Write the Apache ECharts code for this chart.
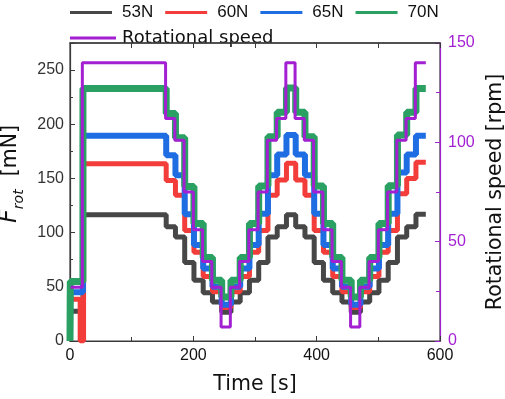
<!DOCTYPE html>
<html><head><meta charset="utf-8">
<script src="https://cdn.jsdelivr.net/npm/echarts@6/dist/echarts.min.js"></script>
<style>html,body{margin:0;padding:0;background:#fff}#c{width:505px;height:399px}</style>
</head><body><div id="c"></div>
<script>
// ---- data ----
const seriesNames = ['53N', '60N', '65N', '70N'];
const speedName = 'Rotational speed';
const xTicks = [0, 200, 400, 600];
const leftTicks = [0, 50, 100, 150, 200, 250];
const rightTicks = [0, 50, 100, 150];

// times (s) at which each speed step begins
const stepTimes = [155,170,185,200,215,230,245, 260,275,290,305,320,335,350,
                   365,380,395,410,425,440,455, 470,485,500,515,530,545,560];
const endTime = 577;

// rotational speed (rpm)
const speedStartTime = 1, speedInitial = 27, speedRiseTime = 20, speedTop = 140;
const speedSteps = [112,101,75,56,40,27,7, 27,40,56,75,101,112,140,
                    112,101,75,56,40,27,7, 27,40,56,75,101,112,140];

// force (mN): initial level (t≈0–17 s) and first plateau (t≈21–155 s)
const initialForce = [27.4, 38.5, 45, 55];
const plateauForce = [116.5, 163.5, 189.5, 233];
const f53 = [105.5,96,72.5,56,44.5,36,26.5, 36,44.5,56,72.5,96,105.5,116.5,
             105.5,96,72.5,56,44.5,36,26.5, 36,44.5,56,72.5,96,105.5,117];
const f60 = [148,134.5,102,82,59.5,45.5,31, 45.5,59.5,82,102,134.5,148.5,164,
             148.5,134.5,102,82,59.5,45.5,31, 45.5,59.5,82,102,136,150,165];
const f65 = [171.5,153,117,88.5,67,50,33.5, 50,67,88.5,117.5,153,172,190,
             172,153,117.5,88.5,67,50,33.5, 50,67,88.5,117.5,155.5,172,189.5];
const f70 = [210,187.5,142.5,108.5,77,56,40.5, 56,77,108.5,143,188.5,211,233.5,
             211,188.5,143,108.5,77,56,40.5, 56,77,108.5,143.3,190,211,233];
const forceSteps = [f53, f60, f65, f70];

// ---- styles ----
const colors = ['#474747', '#f23d3a', '#1f6de3', '#2aa063'];
const widths = [5, 5, 6, 7];
const purple = '#a21fd2';

function buildForce(i) {
  const pts = [[0, 0], [0.5, initialForce[i]]];
  if (i === 1) { pts.push([16.5, 0]); pts.push([22, plateauForce[i]]); }
  else { pts.push([21, plateauForce[i]]); }
  const s = forceSteps[i];
  for (let k = 0; k < stepTimes.length; k++) pts.push([stepTimes[k] + 1, s[k]]);
  pts.push([endTime, s[s.length - 1]]);
  return pts;
}
function buildSpeed() {
  const pts = [[speedStartTime, speedInitial], [speedRiseTime, speedTop]];
  for (let k = 0; k < stepTimes.length; k++) pts.push([stepTimes[k], speedSteps[k]]);
  pts.push([endTime, speedSteps[speedSteps.length - 1]]);
  return pts;
}

const series = seriesNames.map((n, i) => ({
  type: 'line', name: n, data: buildForce(i), step: 'end', showSymbol: false, symbol: 'none',
  color: colors[i], lineStyle: { width: widths[i], color: colors[i] },
  xAxisIndex: 0, yAxisIndex: 0, z: 2 + i
}));
series.push({
  type: 'line', name: speedName, data: buildSpeed(), step: 'end', showSymbol: false, symbol: 'none',
  color: purple, lineStyle: { width: 3, color: purple }, xAxisIndex: 0, yAxisIndex: 1, z: 10
});

const axisColor = '#3a3a3a';
const option = {
  animation: false,
  grid: { left: 70, right: 65, top: 43, bottom: 58, outerBoundsMode: 'none',
          show: true, borderColor: axisColor, borderWidth: 1.2 },
  legend: [
    { data: seriesNames, left: 65, top: -1, icon: 'rect', itemWidth: 42, itemHeight: 3, itemGap: 12, z: 1,
      textStyle: { fontFamily: 'Liberation Sans', fontSize: 17, color: '#111', padding: [0, 0, 0, 5] } },
    { data: [speedName], left: 65, top: 24, icon: 'rect', itemWidth: 46, itemHeight: 3, z: 1,
      textStyle: { fontFamily: 'DejaVu Sans', fontSize: 18, color: '#111', padding: [0, 0, 0, 1] } }
  ],
  xAxis: [
    { type: 'value', min: xTicks[0], max: xTicks[xTicks.length - 1], interval: 200, position: 'bottom',
      name: 'Time [s]', nameLocation: 'middle', nameGap: 33,
      nameTextStyle: { fontFamily: 'DejaVu Sans', fontSize: 20.5, color: '#111' },
      axisLine: { onZero: false, lineStyle: { color: axisColor, width: 1.2 } },
      axisTick: { inside: true, length: 5, lineStyle: { color: axisColor } },
      minorTick: { show: true, splitNumber: 2, length: 4, lineStyle: { color: axisColor } },
      axisLabel: { fontFamily: 'Liberation Sans', fontSize: 16, color: '#111', margin: 7 },
      splitLine: { show: false } },
    { type: 'value', min: 0, max: 600, interval: 100, position: 'top', z: 20,
      axisLine: { show: true, onZero: false, lineStyle: { color: axisColor, width: 1.5 } },
      axisTick: { show: true, inside: true, length: 5, lineStyle: { color: axisColor } },
      axisLabel: { show: false }, splitLine: { show: false } }
  ],
  yAxis: [
    { type: 'value', min: 0, max: 275, interval: 50, position: 'left', offset: 0,
      name: '{f|F}{s|rot}{n|  [mN]}', nameLocation: 'middle', nameGap: 24,
      nameTextStyle: { padding: [0, 0, 0, 36], rich: {
        f: { fontFamily: 'DejaVu Sans', fontStyle: 'italic', fontSize: 24, color: '#111', verticalAlign: 'bottom', padding: [0, 0, 5, 0] },
        s: { fontFamily: 'DejaVu Sans', fontStyle: 'italic', fontSize: 14, color: '#111', verticalAlign: 'bottom' },
        n: { fontFamily: 'DejaVu Sans', fontSize: 20.5, color: '#111', verticalAlign: 'bottom', padding: [0, 0, 5, 0] } } },
      axisLine: { show: true, onZero: false, lineStyle: { color: axisColor, width: 1.2 } },
      axisTick: { inside: true, length: 5, lineStyle: { color: axisColor } },
      axisLabel: { fontFamily: 'Liberation Sans', fontSize: 16, color: '#333', margin: 6,
        formatter: v => (leftTicks.indexOf(v) >= 0 ? String(v) : '') },
      splitLine: { show: false } },
    { type: 'value', min: rightTicks[0], max: rightTicks[rightTicks.length - 1], interval: 50, position: 'right', offset: 0,
      name: 'Rotational speed [rpm]', nameLocation: 'middle', nameGap: 40,
      nameTextStyle: { fontFamily: 'DejaVu Sans', fontSize: 20.5, color: '#111' },
      axisLine: { show: true, onZero: false, lineStyle: { color: purple, width: 1.2 } },
      axisTick: { inside: true, length: 5, lineStyle: { color: purple } },
      minorTick: { show: true, splitNumber: 2, length: 4, lineStyle: { color: purple } },
      axisLabel: { fontFamily: 'Liberation Sans', fontSize: 16, color: purple, margin: 8 },
      splitLine: { show: false } },
    { type: 'value', min: 0, max: 275, interval: 25, position: 'left', offset: 0,
      axisLine: { show: false, onZero: false }, axisLabel: { show: false },
      axisTick: { show: true, inside: true, length: 3, lineStyle: { color: axisColor } },
      splitLine: { show: false } }
  ],
  series: series
};
const chart = echarts.init(document.getElementById('c'), null, { renderer: 'canvas' });
chart.setOption(option);
</script></body></html>
